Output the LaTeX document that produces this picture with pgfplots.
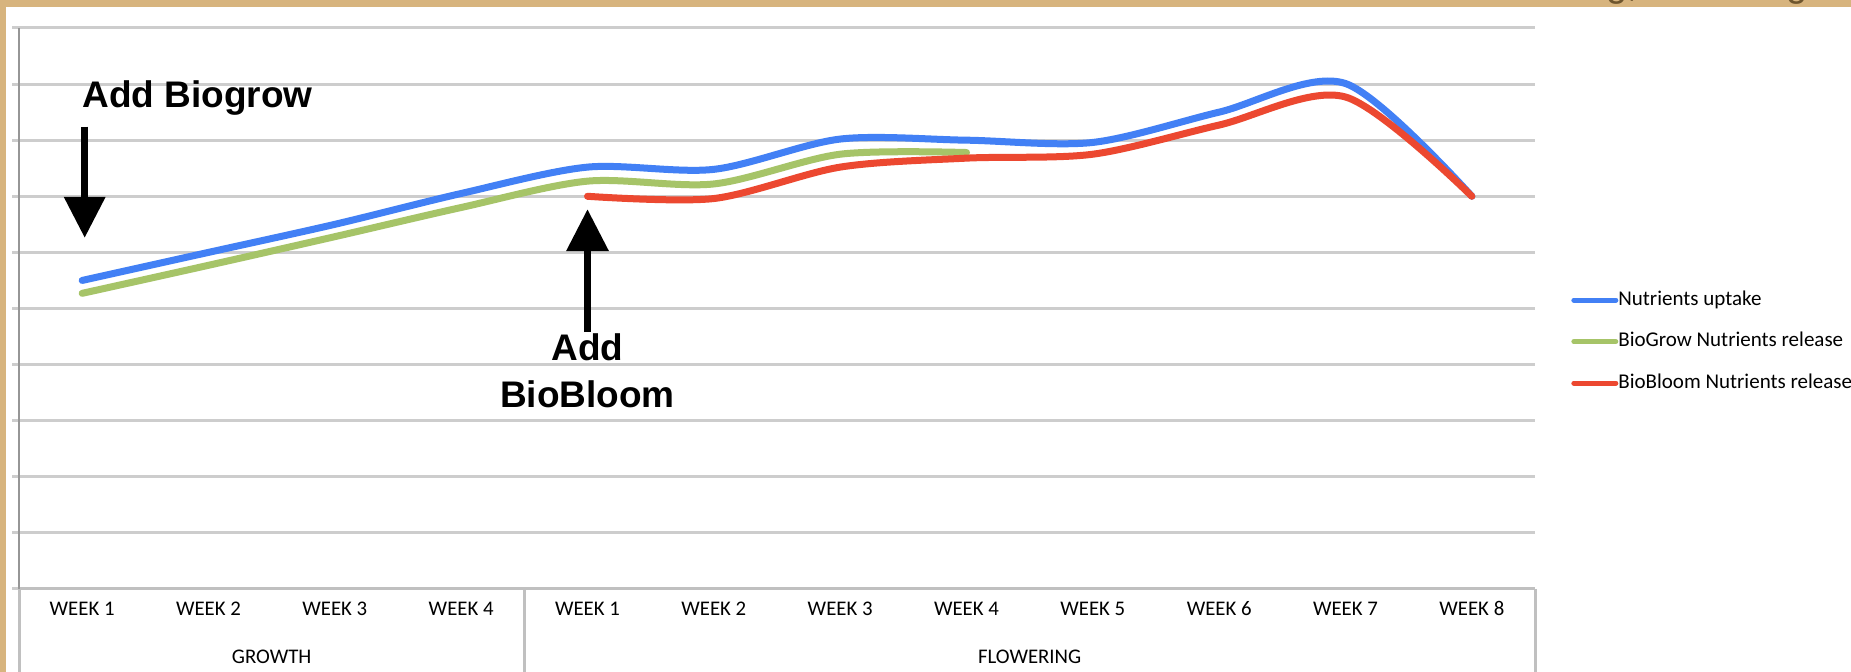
\documentclass[border=0pt]{standalone}
\usepackage{pgfplots}
\pgfplotsset{compat=1.18}
\usepackage{fontspec}
\setmainfont{Carlito}
\newfontfamily\arialfont{Liberation Sans}
\usetikzlibrary{arrows.meta}
\definecolor{tanband}{RGB}{215,180,126}
\definecolor{bandtext}{RGB}{110,85,45}
\definecolor{sBlue}{RGB}{66,128,245}
\definecolor{sGreen}{RGB}{166,196,104}
\definecolor{sRed}{RGB}{236,72,48}
\definecolor{gridgrey}{RGB}{205,205,205}
\definecolor{sepgrey}{RGB}{192,192,192}
\definecolor{axgrey}{RGB}{150,150,150}
\begin{document}
\begin{tikzpicture}
\useasboundingbox (0,0) rectangle (925.5pt,336pt);
\fill[tanband] (0,0) rectangle (925.5pt,336pt);
\fill[white] (3pt,0) rectangle (925.5pt,332.5pt);
\begin{scope}
\clip (0,332.5pt) rectangle (925.5pt,336pt);
\node[anchor=base west, inner sep=0pt, text=bandtext, font=\arialfont\fontsize{19}{19}\selectfont] at (803pt,337.5pt) {g,};
\node[anchor=base west, inner sep=0pt, text=bandtext, font=\arialfont\fontsize{19}{19}\selectfont] at (893pt,337.5pt) {g};
\end{scope}
\begin{axis}[
  at={(9.5pt,41.5pt)}, anchor=south west,
  scale only axis, width=758pt, height=280.5pt,
  xmin=-0.5, xmax=11.5, ymin=0, ymax=10,
  axis lines*=left,
  clip=false,
  tick align=outside,
  major tick length=3.5pt,
  x axis line style={line width=1.5pt, color=sepgrey},
  y axis line style={line width=0.9pt, color=axgrey},
  ymajorgrids=true,
  grid style={line width=1.5pt, color=gridgrey},
  ytick={0,1,...,10}, yticklabels={},
  ytick style={line width=1.5pt, color=gridgrey},
  xtick={0,1,...,11},
  xticklabels={WEEK 1,WEEK 2,WEEK 3,WEEK 4,WEEK 1,WEEK 2,WEEK 3,WEEK 4,WEEK 5,WEEK 6,WEEK 7,WEEK 8},
  xtick style={draw=none},
  xticklabel style={font=\fontsize{10.4}{10.4}\selectfont, anchor=base, yshift=-10pt},
  extra x ticks={-0.5,0.5,1.5,2.5,3.5,4.5,5.5,6.5,7.5,8.5,9.5,10.5,11.5},
  extra x tick labels={},
  extra x tick style={major tick length=20.5pt, tick style={line width=1.5pt, color=sepgrey}},
  legend style={draw=none, fill=none, anchor=north west, at={(1.0237,0.533)},
    font=\fontsize{10.5}{10.5}\selectfont, row sep=11pt, inner sep=0pt,
    nodes={inner sep=0pt, text height=7.5pt, text depth=2.25pt},
    /tikz/every odd column/.append style={column sep=0pt}},
  legend cell align=left,
  legend image code/.code={\draw[#1, line width=2.5pt, line cap=round] (0pt,0pt) -- (21pt,0pt);},
]
\addplot[sBlue, line width=3.5pt, line cap=round, smooth, tension=0.5] coordinates {
 (0,5.5) (1,6.0) (2,6.5) (3,7.05) (4,7.52) (5,7.48) (6,8.02) (7,8.0) (8,7.96) (9,8.5) (10,9.01) (11,7.0)};
\addlegendentry{Nutrients uptake}
\addplot[sGreen, line width=3.5pt, line cap=round, smooth, tension=0.5] coordinates {
 (0,5.27) (1,5.77) (2,6.28) (3,6.8) (4,7.27) (5,7.22) (6,7.75) (7,7.78)};
\addlegendentry{BioGrow Nutrients release}
\addplot[sRed, line width=3.5pt, line cap=round, smooth, tension=0.5] coordinates {
 (4,7.0) (5,6.96) (6,7.52) (7,7.68) (8,7.75) (9,8.27) (10,8.77) (11,7.0)};
\addlegendentry{BioBloom Nutrients release}
% group separators and labels
\draw[sepgrey, line width=1.5pt] (axis cs:-0.5,0) -- ([yshift=-41.5pt]axis cs:-0.5,0);
\draw[sepgrey, line width=1.5pt] (axis cs:3.5,0) -- ([yshift=-41.5pt]axis cs:3.5,0);
\draw[sepgrey, line width=1.5pt] (axis cs:11.5,0) -- ([yshift=-41.5pt]axis cs:11.5,0);
\node[anchor=base, inner sep=0pt, font=\fontsize{10.4}{10.4}\selectfont] at ([yshift=-37.5pt]axis cs:1.5,0) {GROWTH};
\node[anchor=base, inner sep=0pt, font=\fontsize{10.4}{10.4}\selectfont] at ([yshift=-37.5pt]axis cs:7.5,0) {FLOWERING};
% annotations
\node[anchor=base west, inner sep=0pt, font=\arialfont\bfseries\fontsize{18.5}{18.5}\selectfont] at (axis cs:0,8.59) {Add Biogrow};
\draw[line width=3.5pt, -{Triangle[length=20.5pt,width=20pt]}] (axis cs:0.02,8.24) -- (axis cs:0.02,6.26);
\draw[line width=3.5pt, -{Triangle[length=21pt,width=20.5pt]}] (axis cs:4,4.58) -- (axis cs:4,6.77);
\node[anchor=base, inner sep=0pt, font=\arialfont\bfseries\fontsize{18.5}{18.5}\selectfont] at (axis cs:4,4.08) {Add};
\node[anchor=base, inner sep=0pt, font=\arialfont\bfseries\fontsize{18.5}{18.5}\selectfont] at (axis cs:4,3.24) {BioBloom};
\end{axis}
\end{tikzpicture}
\end{document}
